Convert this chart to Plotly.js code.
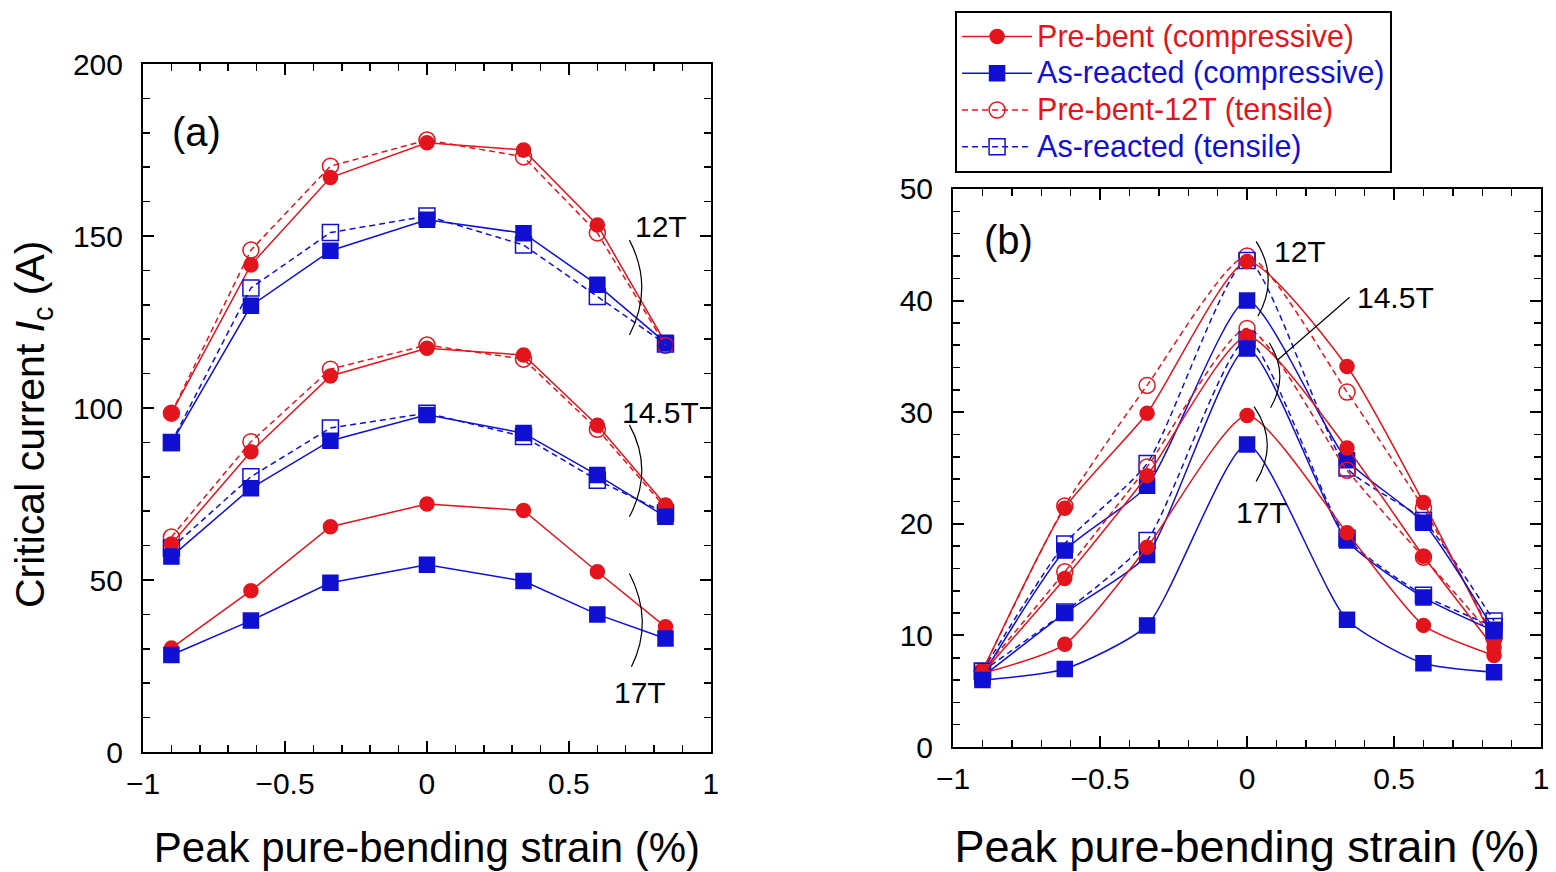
<!DOCTYPE html>
<html>
<head>
<meta charset="utf-8">
<script src="https://cdn.plot.ly/plotly-3.0.1.min.js"></script>
<style>html,body{margin:0;padding:0;background:#fff;}#chart{width:1556px;height:872px;}</style>
</head>
<body>
<div id="chart"></div>
<script>
// ---- data ----
const strain = [-0.9, -0.62, -0.34, 0, 0.34, 0.6, 0.84];
const xTickVals = [-1, -0.5, 0, 0.5, 1];

// panel (a): critical current (A)
const a12_preComp  = [98.5, 141.6, 167.0, 177.1, 175.0, 153.2, 118.9];
const a12_preTens  = [98.5, 145.9, 170.3, 177.9, 173.0, 150.9, 118.2];
const a12_asComp   = [89.8, 129.7, 145.7, 154.7, 150.8, 135.8, 119.0];
const a12_asTens   = [90.0, 134.9, 151.0, 155.8, 147.4, 132.4, 118.6];
const a145_preComp = [60.5, 87.3, 109.3, 117.4, 115.4, 95.0, 71.8];
const a145_preTens = [62.5, 90.2, 111.3, 118.3, 114.2, 93.8, 71.0];
const a145_asComp  = [56.8, 76.7, 90.5, 98.0, 92.7, 80.5, 68.4];
const a145_asTens  = [59.3, 80.0, 94.2, 98.5, 91.7, 79.0, 69.5];
const a17_preComp  = [30.2, 46.9, 65.5, 72.1, 70.2, 52.4, 36.4];
const a17_asComp   = [28.2, 38.2, 49.2, 54.4, 49.7, 40.0, 33.0];

// panel (b)
const b12_preComp  = [6.8, 21.4, 29.9, 43.5, 34.1, 21.9, 9.5];
const b12_preTens  = [6.8, 21.6, 32.4, 44.0, 31.8, 21.4, 9.8];
const b12_asComp   = [6.4, 17.6, 23.4, 40.0, 25.7, 20.1, 10.5];
const b12_asTens   = [6.8, 18.2, 25.4, 43.6, 25.0, 20.3, 11.3];
const b145_preComp = [6.6, 15.1, 24.3, 36.8, 26.8, 17.1, 8.9];
const b145_preTens = [6.8, 15.7, 25.1, 37.5, 24.8, 17.0, 9.8];
const b145_asComp  = [6.3, 12.0, 17.2, 35.7, 18.5, 13.4, 10.4];
const b145_asTens  = [6.8, 12.1, 18.5, 36.5, 18.7, 13.6, 10.8];
const b17_preComp  = [6.6, 9.2, 17.9, 29.7, 19.2, 10.9, 8.2];
const b17_asComp   = [6.0, 7.0, 10.9, 27.1, 11.4, 7.5, 6.7];

const seriesNames = ['Pre-bent (compressive)', 'As-reacted (compressive)', 'Pre-bent-12T (tensile)', 'As-reacted (tensile)'];

// ---- styles ----
const RED = '#e3141c', BLUE = '#1010d2';
const FONT = 'Liberation Sans, Arial, sans-serif';
const styles = {
  preComp: {color: RED, dash: 'solid', symbol: 'circle', size: 14, name: seriesNames[0]},
  asComp:  {color: BLUE, dash: 'solid', symbol: 'square', size: 15, name: seriesNames[1]},
  preTens: {color: RED, dash: '6px,4px', symbol: 'circle-open', size: 16, name: seriesNames[2]},
  asTens:  {color: BLUE, dash: '6px,4px', symbol: 'square-open', size: 16, name: seriesNames[3]}
};
const legendShown = {};
function tr(y, kind, panel) {
  const s = styles[kind];
  const show = !legendShown[kind];
  legendShown[kind] = true;
  return {
    x: strain, y: y, type: 'scatter', mode: 'lines+markers',
    xaxis: panel === 'a' ? 'x' : 'x2', yaxis: panel === 'a' ? 'y' : 'y2',
    name: '<span style="color:' + s.color + ';font-size:30.5px">' + s.name + '</span>',
    legendgroup: kind, showlegend: show,
    line: {color: s.color, width: 1.5, dash: s.dash, shape: panel === 'a' ? 'linear' : 'spline', smoothing: 0.6},
    marker: {symbol: s.symbol, size: s.size, color: s.color, line: {color: s.color, width: 1.5}},
    cliponaxis: false
  };
}
const traces = [
  tr(a12_preComp, 'preComp', 'a'),
  tr(a12_asComp, 'asComp', 'a'),
  tr(a12_preTens, 'preTens', 'a'),
  tr(a12_asTens, 'asTens', 'a'),
  tr(a145_preTens, 'preTens', 'a'),
  tr(a145_asTens, 'asTens', 'a'),
  tr(a145_preComp, 'preComp', 'a'),
  tr(a145_asComp, 'asComp', 'a'),
  tr(a17_preComp, 'preComp', 'a'),
  tr(a17_asComp, 'asComp', 'a'),
  tr(b12_preTens, 'preTens', 'b'),
  tr(b12_asTens, 'asTens', 'b'),
  tr(b12_preComp, 'preComp', 'b'),
  tr(b12_asComp, 'asComp', 'b'),
  tr(b145_preTens, 'preTens', 'b'),
  tr(b145_asTens, 'asTens', 'b'),
  tr(b145_preComp, 'preComp', 'b'),
  tr(b145_asComp, 'asComp', 'b'),
  tr(b17_preComp, 'preComp', 'b'),
  tr(b17_asComp, 'asComp', 'b')
];

function xax(domain, anchor, titleSize, standoff) {
  return {
    domain: domain, anchor: anchor, range: [-1, 1], tickvals: xTickVals,
    ticks: 'inside', ticklen: 11, tickwidth: 2, tickcolor: '#000',
    minor: {dtick: 0.1, ticks: 'inside', ticklen: 7, tickwidth: 1.5, tickcolor: '#000'},
    showline: true, linewidth: 2, linecolor: '#000', mirror: 'allticks',
    showgrid: false, zeroline: false, ticklabelstandoff: 4,
    tickfont: {family: FONT, size: 30, color: '#000'},
    title: {text: 'Peak pure-bending strain (%)', font: {family: FONT, size: titleSize, color: '#000'}, standoff: standoff}
  };
}
function yax(domain, anchor, range, dtick, minorDtick) {
  return {
    domain: domain, anchor: anchor, range: range, dtick: dtick, tick0: 0,
    ticks: 'inside', ticklen: 11, tickwidth: 2, tickcolor: '#000',
    minor: {dtick: minorDtick, ticks: 'inside', ticklen: 7, tickwidth: 1.5, tickcolor: '#000'},
    showline: true, linewidth: 2, linecolor: '#000', mirror: 'allticks',
    showgrid: false, zeroline: false, ticklabelstandoff: 12,
    tickfont: {family: FONT, size: 30, color: '#000'}
  };
}

const bracket = (pts) => ({type: 'path', xref: pts[0], yref: pts[1], path: pts[2], line: {color: '#000', width: 1.2}});

const layout = {
  width: 1556, height: 872, margin: {l: 0, r: 0, t: 0, b: 0},
  paper_bgcolor: '#fff', plot_bgcolor: '#fff',
  font: {family: FONT, color: '#000'},
  xaxis: xax([0.0919, 0.4569], 'y', 42, 34),
  yaxis: yax([0.1376, 0.9266], 'x', [0, 200], 50, 10),
  xaxis2: xax([0.6125, 0.9904], 'y2', 45, 38),
  yaxis2: yax([0.1433, 0.7833], 'x2', [0, 50], 10, 2),
  showlegend: true,
  legend: {
    x: 0.6138, y: 1 - 11 / 872, xanchor: 'left', yanchor: 'top',
    bgcolor: '#fff', bordercolor: '#000', borderwidth: 2,
    font: {family: FONT, size: 26, color: '#000'},
    itemwidth: 70, tracegroupgap: 0, traceorder: 'normal'
  },
  shapes: [
    bracket(['x', 'y', 'M 0.713,148.8 Q 0.80,135 0.713,121.2']),
    bracket(['x', 'y', 'M 0.713,95.1 Q 0.80,82 0.713,68.4']),
    bracket(['x', 'y', 'M 0.713,51.9 Q 0.80,38 0.72,24.8']),
    bracket(['x2', 'y2', 'M 0.031,45.3 Q 0.11,42 0.037,38.6']),
    bracket(['x2', 'y2', 'M 0.076,36.2 Q 0.145,33.3 0.08,30.4']),
    bracket(['x2', 'y2', 'M 0.105,34.7 L 0.349,40.3']),
    bracket(['x2', 'y2', 'M 0.024,30.5 Q 0.11,27.2 0.031,23.8'])
  ],
  annotations: [
    {xref: 'paper', yref: 'paper', x: 33 / 1556, y: 1 - 425 / 872, xanchor: 'center', yanchor: 'middle', textangle: -90,
     text: 'Critical current <i>I</i><sub>c</sub> (A)', showarrow: false,
     font: {family: FONT, size: 41, color: '#000'}},
    {xref: 'x', yref: 'y', x: -0.813, y: 180.2, text: '(a)', showarrow: false, font: {family: FONT, size: 40, color: '#000'}},
    {xref: 'x2', yref: 'y2', x: -0.813, y: 45.4, text: '(b)', showarrow: false, font: {family: FONT, size: 40, color: '#000'}},
    {xref: 'x', yref: 'y', x: 0.824, y: 152.9, text: '12T', showarrow: false, font: {family: FONT, size: 30, color: '#000'}},
    {xref: 'x', yref: 'y', x: 0.824, y: 98.8, text: '14.5T', showarrow: false, font: {family: FONT, size: 30, color: '#000'}},
    {xref: 'x', yref: 'y', x: 0.75, y: 17.4, text: '17T', showarrow: false, font: {family: FONT, size: 30, color: '#000'}},
    {xref: 'x2', yref: 'y2', x: 0.085, y: 44.4, xanchor: 'left', text: '12T', showarrow: false, font: {family: FONT, size: 30, color: '#000'}},
    {xref: 'x2', yref: 'y2', x: 0.367, y: 40.3, xanchor: 'left', text: '14.5T', showarrow: false, font: {family: FONT, size: 30, color: '#000'}},
    {xref: 'x2', yref: 'y2', x: 0.051, y: 21, text: '17T', showarrow: false, font: {family: FONT, size: 30, color: '#000'}}
  ]
};

Plotly.newPlot('chart', traces, layout, {displayModeBar: false, staticPlot: true});
</script>
</body>
</html>
